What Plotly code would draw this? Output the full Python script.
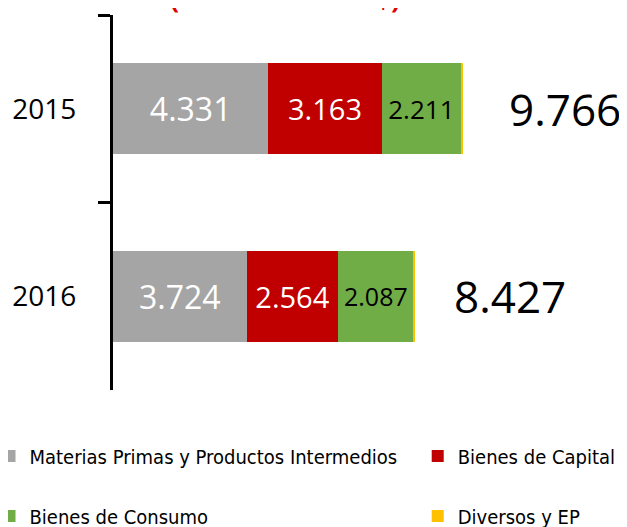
import plotly.graph_objects as go

years = ["2015", "2016"]
series_names = ["Materias Primas y Productos Intermedios", "Bienes de Capital",
                "Bienes de Consumo", "Diversos y EP"]
materias = [4331, 3724]
capital = [3163, 2564]
consumo = [2211, 2087]
diversos = [61, 52]

colors = ["#A5A5A5", "#C00000", "#70AD47", "#FFC000"]
text_colors = ["white", "white", "black", "black"]
text_sizes = [[32, 32], [29, 29], [26, 25], [1, 1]]
legend_ids = ["legend", "legend2", "legend3", "legend4"]
total_shift = [44, 37]

series = [materias, capital, consumo, diversos]
totals = [sum(v) for v in zip(*series)]

fig = go.Figure()
for i, (name, vals) in enumerate(zip(series_names, series)):
    fig.add_trace(go.Bar(
        y=years, x=vals, name=name, orientation="h",
        marker=dict(color=colors[i], line=dict(width=0)),
        texttemplate="%{x:,.0f}" if i < 3 else "",
        textposition="inside", insidetextanchor="middle",
        textfont=dict(color=text_colors[i], size=text_sizes[i], family="Open Sans"),
        legend=legend_ids[i], hoverinfo="skip",
    ))

for idx, t in enumerate(totals):
    fig.add_annotation(x=t, y=idx, xref="x", yref="y", text=f"{t:,}".replace(",", "."),
                       showarrow=False, xanchor="left", xshift=total_shift[idx],
                       font=dict(size=44, color="black", family="Open Sans"))

fig.add_annotation(x=0.342, y=1, xref="paper", yref="paper", text="<b>(Millones de US$)</b>",
                   showarrow=False, xanchor="center", yanchor="bottom", yshift=-3,
                   font=dict(size=27, color="#E00000", family="Open Sans"))

legend_font = dict(size=20, color="black", family="Liberation Sans Narrow, DejaVu Sans Condensed, Open Sans")
col_x = [-0.246, 0.607]
row_y = [-0.176, -0.336]
legend_layout = {}
for i, lid in enumerate(legend_ids):
    legend_layout[lid] = dict(orientation="h", x=col_x[i % 2], y=row_y[i // 2],
                              xanchor="left", yanchor="middle", font=legend_font,
                              bgcolor="rgba(0,0,0,0)")

fig.update_layout(
    width=627, height=527,
    margin=dict(l=105, r=20, t=7, b=145, autoexpand=False),
    paper_bgcolor="white", plot_bgcolor="white",
    barmode="stack", bargap=0.515,
    separators=",.",
    showlegend=True,
    xaxis=dict(visible=False, range=[0, 14000], automargin=False),
    yaxis=dict(type="category", range=[1.5, -0.5], showline=True, linecolor="black",
               linewidth=3, ticks="outside", tickson="boundaries", ticklen=12,
               tickwidth=3, tickcolor="black", showgrid=False, zeroline=False,
               ticklabelstandoff=28, automargin=False,
               tickfont=dict(size=28, color="black", family="Open Sans")),
    **legend_layout,
)

fig.write_html("out.html")
